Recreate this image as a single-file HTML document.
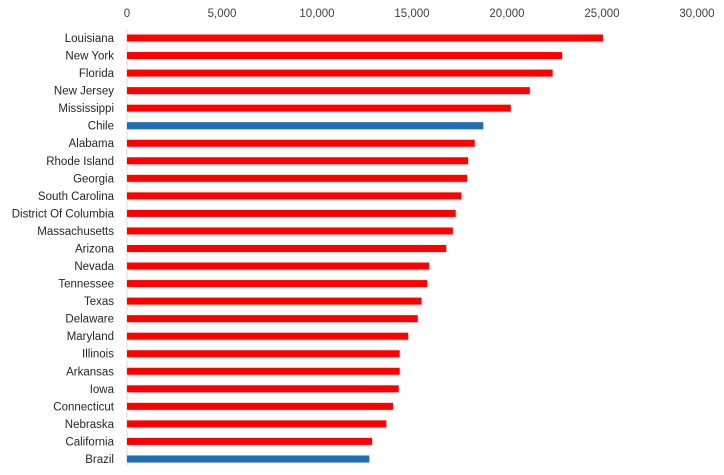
<!DOCTYPE html>
<html><head><meta charset="utf-8"><style>
body{margin:0;background:#fff;}
svg{display:block;font-family:"Liberation Sans",sans-serif;}
</style></head><body>
<svg id="chart" width="724" height="475"></svg>
<script>
const categories=["Louisiana","New York","Florida","New Jersey","Mississippi","Chile","Alabama","Rhode Island","Georgia","South Carolina","District Of Columbia","Massachusetts","Arizona","Nevada","Tennessee","Texas","Delaware","Maryland","Illinois","Arkansas","Iowa","Connecticut","Nebraska","California","Brazil"];
const values=[25050,22900,22400,21200,20200,18750,18300,17950,17900,17600,17300,17150,16800,15900,15800,15500,15300,14800,14350,14350,14300,14000,13650,12900,12750];
const highlight=["Chile","Brazil"];
const ticks=[0,5000,10000,15000,20000,25000,30000];
const tickLabels=["0","5,000","10,000","15,000","20,000","25,000","30,000"];
const NS="http://www.w3.org/2000/svg";
const svg=document.getElementById('chart');
const x0=127,xMax=697,vMax=30000;
const xs=v=>x0+(v/vMax)*(xMax-x0);
const y0=38,pitch=17.54;
const ys=i=>y0+i*pitch;
function mk(t,a){const e=document.createElementNS(NS,t);for(const k in a)e.setAttribute(k,a[k]);svg.appendChild(e);return e;}
const ax=mk('line',{x1:x0,y1:29,x2:x0,y2:466,stroke:'#d9d9d9','stroke-width':1});


ticks.forEach((t,i)=>{
 const e=mk('text',{x:xs(t),y:17,'text-anchor':'middle','font-size':'11.5',fill:'#404040'});
 e.textContent=tickLabels[i];
 
 
});
categories.forEach((c,i)=>{
 const y=ys(i);
 const l=mk('text',{x:114,y:y+4,'text-anchor':'end','font-size':'11.5',fill:'#262626'});
 l.textContent=c;
 
 
 const sh=mk('rect',{x:x0+1,y:y-2.5,width:xs(values[i])-x0,height:7,fill:'#000',opacity:0.12});
 
 
 const b=mk('rect',{x:x0,y:y-3.5,width:xs(values[i])-x0,height:7,fill:highlight.includes(c)?'#1f6eb5':'#ff0000'});
 
 
});
</script>
</body></html>
